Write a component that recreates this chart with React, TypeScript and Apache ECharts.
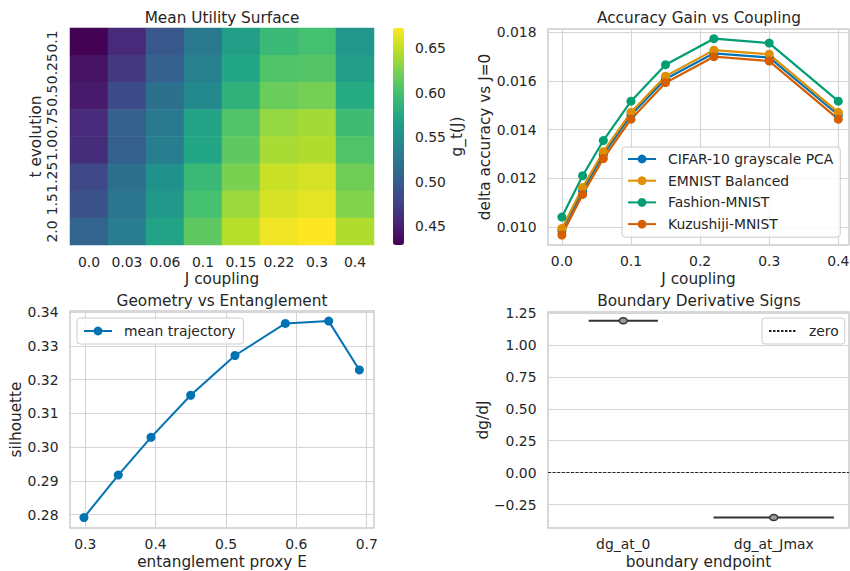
import React, { useEffect, useRef } from 'react';
import * as echarts from 'echarts';

// ---------- Panel 1: Mean Utility Surface (heatmap) ----------
const jCategories = ['0.0', '0.03', '0.06', '0.1', '0.15', '0.22', '0.3', '0.4'];
const tCategories = ['0.1', '0.25', '0.5', '0.75', '1.0', '1.25', '1.5', '2.0'];
const utilityT01 = [0.429, 0.458, 0.495, 0.526, 0.565, 0.592, 0.600, 0.556];
const utilityT025 = [0.441, 0.468, 0.504, 0.534, 0.573, 0.605, 0.607, 0.565];
const utilityT05 = [0.446, 0.485, 0.519, 0.543, 0.585, 0.617, 0.622, 0.578];
const utilityT075 = [0.458, 0.502, 0.526, 0.570, 0.605, 0.634, 0.639, 0.597];
const utilityT10 = [0.460, 0.502, 0.531, 0.573, 0.612, 0.641, 0.644, 0.605];
const utilityT125 = [0.482, 0.519, 0.551, 0.592, 0.624, 0.653, 0.658, 0.619];
const utilityT15 = [0.490, 0.524, 0.558, 0.600, 0.636, 0.658, 0.663, 0.627];
const utilityT20 = [0.507, 0.531, 0.570, 0.612, 0.646, 0.668, 0.673, 0.644];
const utilityRows = [utilityT01, utilityT025, utilityT05, utilityT075, utilityT10, utilityT125, utilityT15, utilityT20];
const cbarMin = 0.4286;
const cbarMax = 0.673;
const cbarTicks = [0.45, 0.5, 0.55, 0.6, 0.65];

// ---------- Panel 2: Accuracy Gain vs Coupling ----------
const jValues = [0, 0.03, 0.06, 0.1, 0.15, 0.22, 0.3, 0.4];
const cifarGain = [0.00984, 0.01148, 0.01298, 0.0146, 0.01608, 0.01714, 0.01697, 0.0146];
const emnistGain = [0.00993, 0.01162, 0.01309, 0.01471, 0.0162, 0.01727, 0.0171, 0.01471];
const fashionGain = [0.0104, 0.0121, 0.01355, 0.01517, 0.01667, 0.01774, 0.01756, 0.01517];
const kuzushijiGain = [0.00966, 0.01133, 0.01281, 0.01443, 0.01593, 0.017, 0.01682, 0.01443];
const accYTicks = [0.010, 0.012, 0.014, 0.016, 0.018];
const accXTicks = [0, 0.1, 0.2, 0.3, 0.4];

// ---------- Panel 3: Geometry vs Entanglement ----------
const entanglement = [0.2981, 0.3469, 0.3934, 0.4498, 0.5128, 0.5844, 0.646, 0.6896];
const silhouette = [0.2791, 0.2917, 0.3029, 0.3154, 0.3272, 0.3367, 0.3374, 0.3229];
const geoXTicks = [0.3, 0.4, 0.5, 0.6, 0.7];
const geoYTicks = [0.28, 0.29, 0.3, 0.31, 0.32, 0.33, 0.34];

// ---------- Panel 4: Boundary Derivative Signs ----------
const boundaryCats = ['dg_at_0', 'dg_at_Jmax'];
const boundaryValues = [1.19, -0.352];
const boundarySpread = [0.23, 0.4];
const boundaryTicks = [-0.25, 0, 0.25, 0.5, 0.75, 1.0, 1.25];

const viridis = ['#440154', '#482475', '#414487', '#355f8d', '#2a788e', '#21918c', '#22a884', '#44bf70', '#7ad151', '#bddf26', '#fde725'];
const FONT = 'DejaVu Sans';
const TXT = '#262626';
const TICK = 13.9;
const LBL = 15.3;
const SPINE = '#cccccc';
const GRIDC = '#d5d5d5';

const fmtMinus = (s: string) => s.replace('-', '\u2212');

function buildOption() {
  const heatData: number[][] = [];
  utilityRows.forEach((row, yi) => row.forEach((v, xi) => heatData.push([xi, yi, v])));

  const gridBase = { containLabel: false, outerBoundsMode: 'none', show: true, borderColor: SPINE, borderWidth: 1.5, backgroundColor: '#ffffff' };
  const tickLabel = { color: TXT, fontSize: TICK, fontFamily: FONT };
  const nameStyle = { color: TXT, fontSize: LBL, fontFamily: FONT };
  const splitLine = { show: true, lineStyle: { color: GRIDC, width: 1.1 } };

  const legendBase = {
    orient: 'vertical',
    backgroundColor: 'rgba(255,255,255,0.8)',
    borderColor: SPINE,
    borderWidth: 1,
    borderRadius: 3,
    itemWidth: 28,
    itemHeight: 11,
    textStyle: { color: TXT, fontSize: TICK, fontFamily: FONT, padding: [0, 0, 0, 7] },
  };

  const lineSeries = (name: string, ys: number[], color: string, xi: number, yi: number, xs: number[], size: number, width: number) => ({
    type: 'line',
    name,
    xAxisIndex: xi,
    yAxisIndex: yi,
    data: xs.map((x, i) => [x, ys[i]]),
    symbol: 'circle',
    symbolSize: size,
    showSymbol: true,
    lineStyle: { color, width },
    itemStyle: { color },
    z: 3,
  });

  return {
    animation: false,
    textStyle: { fontFamily: FONT, color: TXT },
    title: [
      { text: 'Mean Utility Surface', left: 222, top: 10, textAlign: 'center', padding: 0, textStyle: { fontSize: LBL, fontWeight: 'normal', color: TXT, fontFamily: FONT } },
      { text: 'Accuracy Gain vs Coupling', left: 699, top: 10, textAlign: 'center', padding: 0, textStyle: { fontSize: LBL, fontWeight: 'normal', color: TXT, fontFamily: FONT } },
      { text: 'Geometry vs Entanglement', left: 222, top: 293, textAlign: 'center', padding: 0, textStyle: { fontSize: LBL, fontWeight: 'normal', color: TXT, fontFamily: FONT } },
      { text: 'Boundary Derivative Signs', left: 699, top: 293, textAlign: 'center', padding: 0, textStyle: { fontSize: LBL, fontWeight: 'normal', color: TXT, fontFamily: FONT } },
    ],
    grid: [
      { ...gridBase, show: false, left: 70, top: 28, width: 304, height: 217 },
      { ...gridBase, left: 548, top: 29, width: 301, height: 216 },
      { ...gridBase, left: 70, top: 311, width: 304, height: 217 },
      { ...gridBase, left: 548, top: 312, width: 301, height: 216 },
      { ...gridBase, show: false, left: 393, top: 28, width: 11, height: 217 },
    ],
    visualMap: {
      type: 'continuous',
      seriesIndex: 0,
      min: cbarMin,
      max: cbarMax,
      orient: 'vertical',
      left: 393,
      top: 28,
      itemWidth: 11,
      itemHeight: 217,
      padding: 0,
      calculable: false,
      hoverLink: false,
      inRange: { color: viridis },
    },
    xAxis: [
      {
        type: 'category', gridIndex: 0, data: jCategories, boundaryGap: true,
        axisLine: { show: false }, axisTick: { show: false }, splitLine: { show: false },
        axisLabel: { ...tickLabel, margin: 10, interval: 0 },
        name: 'J coupling', nameLocation: 'middle', nameGap: 26, nameTextStyle: nameStyle,
      },
      {
        type: 'value', gridIndex: 1, min: -0.0201, max: 0.4155,
        axisLine: { show: false }, axisTick: { show: false, customValues: accXTicks },
        axisLabel: { ...tickLabel, margin: 9, customValues: accXTicks, formatter: (v: number) => v.toFixed(1) },
        splitLine,
        name: 'J coupling', nameLocation: 'middle', nameGap: 26, nameTextStyle: nameStyle,
      },
      {
        type: 'value', gridIndex: 2, min: 0.2783, max: 0.7104,
        axisLine: { show: false }, axisTick: { show: false, customValues: geoXTicks },
        axisLabel: { ...tickLabel, margin: 9, customValues: geoXTicks, formatter: (v: number) => v.toFixed(1) },
        splitLine,
        name: 'entanglement proxy E', nameLocation: 'middle', nameGap: 26, nameTextStyle: nameStyle,
      },
      {
        type: 'category', gridIndex: 3, data: boundaryCats, boundaryGap: true,
        axisLine: { show: false }, axisTick: { show: false }, splitLine: { show: false },
        axisLabel: { ...tickLabel, margin: 9 },
        name: 'boundary endpoint', nameLocation: 'middle', nameGap: 26, nameTextStyle: nameStyle,
      },
      { type: 'value', gridIndex: 4, show: false, min: 0, max: 1 },
    ],
    yAxis: [
      {
        type: 'category', gridIndex: 0, data: tCategories, inverse: true, boundaryGap: true,
        axisLine: { show: false }, axisTick: { show: false }, splitLine: { show: false },
        axisLabel: { ...tickLabel, margin: 11, rotate: 90, interval: 0 },
        name: 't evolution', nameLocation: 'middle', nameGap: 27, nameRotate: 90, nameTextStyle: nameStyle,
      },
      {
        type: 'value', gridIndex: 1, min: 0.00925, max: 0.01814,
        axisLine: { show: false }, axisTick: { show: false, customValues: accYTicks },
        axisLabel: { ...tickLabel, margin: 11.5, customValues: accYTicks, formatter: (v: number) => v.toFixed(3) },
        splitLine,
        name: 'delta accuracy vs J=0', nameLocation: 'middle', nameGap: 54, nameRotate: 90, nameTextStyle: nameStyle,
      },
      {
        type: 'value', gridIndex: 2, min: 0.276, max: 0.3404,
        axisLine: { show: false }, axisTick: { show: false, customValues: geoYTicks },
        axisLabel: { ...tickLabel, margin: 11.5, customValues: geoYTicks, formatter: (v: number) => v.toFixed(2) },
        splitLine,
        name: 'silhouette', nameLocation: 'middle', nameGap: 45, nameRotate: 90, nameTextStyle: nameStyle,
      },
      {
        type: 'value', gridIndex: 3, min: -0.434, max: 1.258,
        axisLine: { show: false }, axisTick: { show: false, customValues: boundaryTicks },
        axisLabel: { ...tickLabel, margin: 11.5, customValues: boundaryTicks, formatter: (v: number) => fmtMinus(v.toFixed(2)) },
        splitLine,
        name: 'dg/dJ', nameLocation: 'middle', nameGap: 57, nameRotate: 90, nameTextStyle: nameStyle,
      },
      {
        type: 'value', gridIndex: 4, position: 'right', min: cbarMin, max: cbarMax,
        axisLine: { show: false },
        axisTick: { show: true, length: 5, customValues: cbarTicks, lineStyle: { color: TXT, width: 1 } },
        axisLabel: { ...tickLabel, margin: 11, customValues: cbarTicks, formatter: (v: number) => v.toFixed(2) },
        splitLine: { show: false },
        name: 'g_t(J)', nameLocation: 'middle', nameGap: 27, nameRotate: 90, nameTextStyle: nameStyle,
      },
    ],
    legend: [
      {
        ...legendBase,
        left: 622, top: 147, padding: [5, 7, 6, 5], itemGap: 7.7,
        data: ['CIFAR-10 grayscale PCA', 'EMNIST Balanced', 'Fashion-MNIST', 'Kuzushiji-MNIST'],
      },
      {
        ...legendBase,
        left: 77, top: 318, padding: [6, 8, 6, 6],
        data: ['mean trajectory'],
      },
      {
        ...legendBase,
        left: 762, top: 318, padding: [6, 6, 6, 6],
        data: [{ name: 'zero', itemStyle: { color: 'rgba(0,0,0,0)', borderColor: 'rgba(0,0,0,0)', borderWidth: 0, opacity: 0 } }],
      },
    ],
    series: [
      {
        type: 'heatmap', xAxisIndex: 0, yAxisIndex: 0, data: heatData,
        itemStyle: { borderWidth: 0 }, emphasis: { disabled: true },
      },
      lineSeries('CIFAR-10 grayscale PCA', cifarGain, '#0173b2', 1, 1, jValues, 9, 2.2),
      lineSeries('EMNIST Balanced', emnistGain, '#de8f05', 1, 1, jValues, 9, 2.2),
      lineSeries('Fashion-MNIST', fashionGain, '#029e73', 1, 1, jValues, 9, 2.2),
      lineSeries('Kuzushiji-MNIST', kuzushijiGain, '#d55e00', 1, 1, jValues, 9, 2.2),
      lineSeries('mean trajectory', silhouette, '#0173b2', 2, 2, entanglement, 9, 2),
      {
        type: 'line', name: 'zero', xAxisIndex: 3, yAxisIndex: 3, data: [],
        symbol: 'none', lineStyle: { color: TXT, width: 1, type: [2.5, 1.5] }, itemStyle: { color: TXT },
        markLine: {
          silent: true, symbol: 'none', label: { show: false },
          lineStyle: { color: TXT, width: 1, type: [3, 1.6] },
          data: [{ yAxis: 0 }],
        },
      },
      {
        type: 'custom', name: 'boundary', xAxisIndex: 3, yAxisIndex: 3,
        data: boundaryValues.map((v, i) => [i, v, boundarySpread[i]]),
        renderItem: (params: any, api: any) => {
          const c = api.coord([api.value(0), api.value(1)]);
          const w = api.size([1, 0])[0];
          const half = api.value(2) * w;
          return {
            type: 'group',
            children: [
              { type: 'line', shape: { x1: c[0] - half, y1: c[1], x2: c[0] + half, y2: c[1] }, style: { stroke: '#333333', lineWidth: 2 } },
              { type: 'ellipse', shape: { cx: c[0], cy: c[1], rx: 4, ry: 3 }, style: { fill: '#9a9a9a', stroke: '#333333', lineWidth: 1.5 } },
            ],
          };
        },
        z: 4,
      },
    ],
  };
}

export default function App() {
  const ref = useRef<HTMLDivElement>(null);
  useEffect(() => {
    if (!ref.current) return;
    const chart = echarts.init(ref.current, undefined, { renderer: 'svg' });
    chart.setOption(buildOption() as any);
    return () => chart.dispose();
  }, []);
  return <div ref={ref} style={{ position: 'fixed', left: 0, top: 0, width: 850, height: 571, background: '#ffffff' }} />;
}
